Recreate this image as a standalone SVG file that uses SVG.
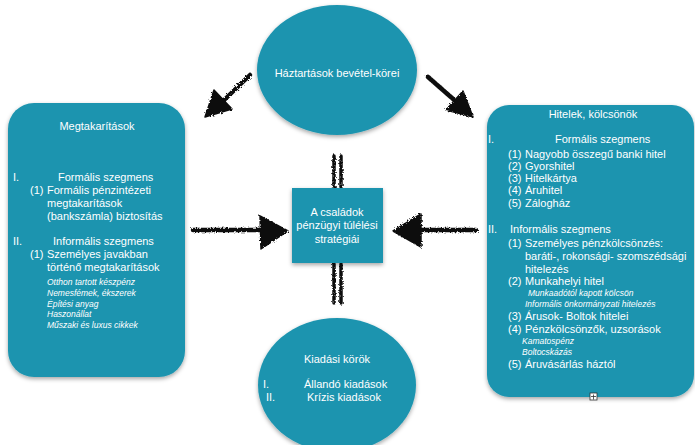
<svg xmlns="http://www.w3.org/2000/svg" width="695" height="445" viewBox="0 0 695 445">
<defs>
<filter id="sh" x="-10%" y="-10%" width="120%" height="125%">
<feDropShadow dx="0" dy="2" stdDeviation="2" flood-color="#000" flood-opacity="0.35"/>
</filter>
<filter id="rough" x="-20%" y="-20%" width="140%" height="140%">
<feTurbulence type="fractalNoise" baseFrequency="0.6" numOctaves="2" seed="3"/>
<feDisplacementMap in="SourceGraphic" scale="3.5"/>
</filter>
</defs>
<style>
.n{fill:#1c94af;filter:url(#sh)}
text{font-family:"Liberation Sans",Arial,sans-serif;fill:#fff;font-size:11px}
.c{text-anchor:middle}
.i{font-style:italic;font-size:8.5px}
.ar{stroke:#111;fill:none;stroke-linecap:round}
.hd{fill:#111;stroke:#111;stroke-width:1.5;stroke-linejoin:round}
</style>
<rect width="695" height="445" fill="#fff"/>

<g id="connectors" filter="url(#rough)">
<line class="ar" x1="193" y1="230" x2="265" y2="230" stroke-width="4.5"/>
<polygon class="hd" points="260,216 288,231 261,249"/>
<line class="ar" x1="476" y1="230" x2="412" y2="230" stroke-width="4.5"/>
<polygon class="hd" points="421,214 393,231 421,247"/>
<line class="ar" x1="334" y1="156" x2="334" y2="187" stroke-width="3.5"/>
<line class="ar" x1="341" y1="156" x2="341" y2="187" stroke-width="3.5"/>
<line class="ar" x1="334" y1="264" x2="334" y2="303" stroke-width="3.5"/>
<line class="ar" x1="341" y1="264" x2="341" y2="303" stroke-width="3.5"/>
<line class="ar" x1="250" y1="75" x2="220" y2="104" stroke-width="4.5"/>
<polygon class="hd" points="205,117 214,90 232,109"/>
<line class="ar" x1="428" y1="77" x2="460" y2="105" stroke-width="4.5"/>
<polygon class="hd" points="473,117 463,91 446,110"/>
</g>

<g id="income">
<ellipse class="n" cx="337" cy="70" rx="80" ry="65"/>
<text class="c" x="337" y="77">Háztartások bevétel-körei</text>
</g>

<g id="savings">
<rect class="n" x="8" y="103" width="177" height="274" rx="26"/>
<text class="c" x="97" y="130">Megtakarítások</text>
<text x="13" y="181">I.</text>
<text x="58" y="181">Formális szegmens</text>
<text x="30" y="194">(1)</text>
<text x="47" y="194">Formális pénzintézeti</text>
<text x="47" y="207">megtakarítások</text>
<text x="47" y="220">(bankszámla) biztosítás</text>
<text x="13" y="245">II.</text>
<text x="53" y="245">Informális szegmens</text>
<text x="30" y="258">(1)</text>
<text x="47" y="258">Személyes javakban</text>
<text x="47" y="271">történő megtakarítások</text>
<text class="i" x="47" y="285">Otthon tartott készpénz</text>
<text class="i" x="47" y="296">Nemesfémek, ékszerek</text>
<text class="i" x="47" y="307">Építési anyag</text>
<text class="i" x="47" y="317">Haszonállat</text>
<text class="i" x="47" y="328">Műszaki és luxus cikkek</text>
</g>

<g id="loans">
<rect class="n" x="487" y="105" width="207" height="292" rx="22"/>
<text class="c" x="593" y="118">Hitelek, kölcsönök</text>
<text x="488" y="143">I.</text>
<text x="555" y="143">Formális szegmens</text>
<text x="508" y="158">(1)</text><text x="525" y="158">Nagyobb összegű banki hitel</text>
<text x="508" y="170">(2)</text><text x="525" y="170">Gyorshitel</text>
<text x="508" y="182">(3)</text><text x="525" y="182">Hitelkártya</text>
<text x="508" y="194">(4)</text><text x="525" y="194">Áruhitel</text>
<text x="508" y="207">(5)</text><text x="525" y="207">Zálogház</text>
<text x="488" y="233">II.</text>
<text x="510" y="233">Informális szegmens</text>
<text x="508" y="247">(1)</text><text x="525" y="247">Személyes pénzkölcsönzés:</text>
<text x="525" y="260">baráti-, rokonsági- szomszédsági</text>
<text x="525" y="273">hitelezés</text>
<text x="508" y="285">(2)</text><text x="525" y="285">Munkahelyi hitel</text>
<text class="i" x="528" y="296">Munkaadótól kapott kölcsön</text>
<text class="i" x="525" y="307">Informális önkormányzati hitelezés</text>
<text x="508" y="320">(3)</text><text x="525" y="320">Árusok- Boltok hitelei</text>
<text x="508" y="333">(4)</text><text x="525" y="333">Pénzkölcsönzők, uzsorások</text>
<text class="i" x="522" y="344">Kamatospénz</text>
<text class="i" x="522" y="355">Boltocskázás</text>
<text x="508" y="368">(5)</text><text x="525" y="368">Áruvásárlás háztól</text>
</g>

<g id="strategies">
<rect class="n" x="292" y="188" width="91" height="75"/>
<text class="c" x="337" y="216">A családok</text>
<text class="c" x="337" y="229">pénzügyi túlélési</text>
<text class="c" x="337" y="243">stratégiái</text>
</g>

<g id="expenses">
<ellipse class="n" cx="337" cy="385" rx="79" ry="67"/>
<text class="c" x="337" y="363">Kiadási körök</text>
<text x="263" y="388">I.</text>
<text x="304" y="388">Állandó kiadások</text>
<text x="266" y="401">II.</text>
<text x="307" y="401">Krízis kiadások</text>
</g>

<g id="handle">
<rect x="590" y="393" width="7" height="7" fill="#fff" stroke="#333" stroke-width="0.8"/>
<path d="M593.5 394.5v5M591 396.5h5" stroke="#333" stroke-width="0.8"/>
</g>
</svg>
